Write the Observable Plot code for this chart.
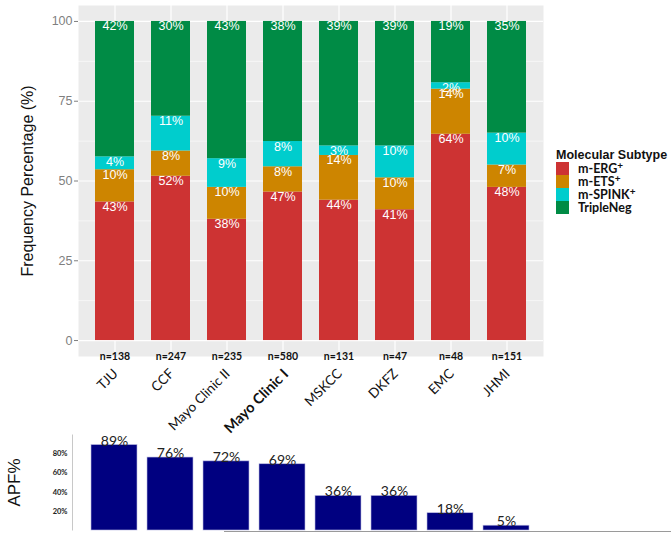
<!DOCTYPE html>
<html><head><meta charset="utf-8">
<script src="https://cdn.jsdelivr.net/npm/d3@7"></script>
<script src="https://cdn.jsdelivr.net/npm/@observablehq/plot@0.6"></script>
<style>
body{margin:0;background:#fff;}
#wrap{position:relative;width:671px;height:533px;overflow:hidden;background:#fff;}
#top,#bottom{position:absolute;left:0;}
#top{top:0}
#bottom{top:420px}
#legend{position:absolute;left:556px;top:148px;}
#legend .ttl{font-family:'Liberation Sans',Arial,sans-serif;font-weight:bold;font-size:12.5px;line-height:14px;color:#111;white-space:nowrap;}
#legend .item{display:flex;align-items:center;height:13px;}
#legend .key{width:13px;height:13px;}
#legend .lbl{margin-left:9px;font-family:Lato,sans-serif;font-weight:bold;font-size:12.5px;color:#111;white-space:nowrap;}
#legend sup{font-size:10px;vertical-align:4px;line-height:0;}
#baseline{position:absolute;left:224px;top:531px;width:447px;height:1px;background:#9a9a9a;}
</style></head>
<body><div id="wrap"><div id="top"></div><div id="bottom"></div><div id="legend"></div><div id="baseline"></div></div>
<script>
const cohorts = ["TJU","CCF","Mayo Clinic II","Mayo Clinic I","MSKCC","DKFZ","EMC","JHMI"];
const sampleSizes = [138,247,235,580,131,47,48,151];
const subtypes = ["m-ERG","m-ETS","m-SPINK","TripleNeg"];
const ergPct = [43,52,38,47,44,41,64,48];
const etsPct = [10,8,10,8,14,10,14,7];
const spinkPct = [4,11,9,8,3,10,2,10];
const tripleNegPct = [42,30,43,38,39,39,19,35];
const apfPct = [89,76,72,69,36,36,18,5];
const subtypeColors = ["#CD3333","#CD8500","#00CDCD","#008B45"];
const yTicks = [0,25,50,75,100];
const yMinor = [12.5,37.5,62.5,87.5];
const apfTicks = [20,40,60,80];
const highlighted = "Mayo Clinic I";

const series = [ergPct, etsPct, spinkPct, tripleNegPct];
const rows = [];
cohorts.forEach((c,i)=>subtypes.forEach((s,j)=>rows.push({cohort:c, subtype:s, value:series[j][i]})));
const stackOpts = {x:"cohort", y:"value", z:"subtype", offset:"normalize"};

const W = 671;
const topChart = Plot.plot({
  width: W, height: 450,
  marginLeft: 78, marginRight: 128, marginTop: 5, marginBottom: 94,
  style: "background:transparent;overflow:visible;font-family:'Liberation Sans',Arial,sans-serif;font-size:12.5px;color:#7f7f7f;",
  x: {domain: cohorts, axis: null, paddingInner: 0.3, paddingOuter: 0.25},
  y: {domain: [-0.05, 1.05], ticks: yTicks.map(d=>d/100), tickFormat: d=>String(Math.round(d*100)), tickSize: 4, tickPadding: 2, label: null},
  color: {domain: subtypes, range: subtypeColors},
  marks: [
    Plot.frame({fill:"#EBEBEB"}),
    Plot.ruleY(yMinor, {y: d=>d/100, stroke:"white", strokeWidth:0.6}),
    Plot.ruleY(yTicks, {y: d=>d/100, stroke:"white", strokeWidth:1.2}),
    Plot.ruleX(cohorts, {x: d=>d, stroke:"white", strokeWidth:1.2}),
    Plot.barY(rows, Plot.stackY({...stackOpts, fill:"subtype"})),
    Plot.text(rows, Plot.stackY2({...stackOpts, text: d=>d.value+"%", fill:"white", dy:5, lineAnchor:"middle", fontSize:12.5, fontFamily:"'Liberation Sans',Arial,sans-serif"})),
    Plot.text(cohorts, {x: d=>d, y: -0.05, text: d=>"n="+sampleSizes[cohorts.indexOf(d)], fill:"#111", fontWeight:"bold", fontSize:10.5, fontFamily:"Lato,sans-serif", lineAnchor:"middle"}),
    Plot.text(cohorts.filter(c=>c!==highlighted), {x: d=>d, y: -0.085, text: d=>d, rotate:-45, textAnchor:"end", lineAnchor:"top", dx:-3, fill:"#111", fontSize:13.5, fontFamily:"Lato,sans-serif"}),
    Plot.text(cohorts.filter(c=>c===highlighted), {x: d=>d, y: -0.085, text: d=>d, rotate:-45, textAnchor:"end", lineAnchor:"top", dx:-1, fill:"#111", fontSize:14.5, fontWeight:"bold", fontFamily:"Lato,sans-serif"}),
    Plot.text(["Frequency Percentage (%)"], {frameAnchor:"left", dx:-51, rotate:-90, textAnchor:"middle", text:d=>d, fill:"#111", fontSize:16, fontFamily:"'Liberation Sans',Arial,sans-serif"})
  ]
});
document.getElementById("top").appendChild(topChart);

const apfRows = cohorts.map((c,i)=>({cohort:c, apf:apfPct[i]}));
const bW = W - 72 - 123.5, bH = 113 - 14 - 3;
const bottomChart = Plot.plot({
  width: W, height: 113,
  marginLeft: 72, marginRight: 123.5, marginTop: 14, marginBottom: 3,
  style: "background:transparent;overflow:visible;font-family:Lato,sans-serif;font-size:7.5px;font-weight:bold;color:#222;",
  x: {domain: cohorts, axis: null, paddingInner: 0.17, paddingOuter: 0.315},
  y: {domain: [0,100], ticks: apfTicks, tickFormat: d=>d+"%", tickSize: 0, tickPadding: 5, label: null},
  marks: [
    Plot.frame({stroke:"#c8c8c8", strokeDasharray:`0,${2*bW+bH},${bH},0`}),
    Plot.barY(apfRows, {x:"cohort", y:"apf", fill:"#000080", stroke:"#b8b8e0", strokeWidth:0.6}),
    Plot.text(apfRows, {x:"cohort", y:"apf", text:d=>d.apf+"%", dy:-4, lineAnchor:"middle", fill:"#222", fontSize:14, fontWeight:"normal", fontFamily:"Lato,sans-serif"}),
    Plot.text(["APF%"], {frameAnchor:"left", dx:-58, rotate:-90, textAnchor:"middle", text:d=>d, fill:"#111", fontSize:17, fontWeight:"normal", fontFamily:"'Liberation Sans',Arial,sans-serif"})
  ]
});
document.getElementById("bottom").appendChild(bottomChart);

const legend = document.getElementById("legend");
legend.innerHTML = `<div class="ttl">Molecular Subtype</div>` + subtypes.map((s,i)=>
  `<div class="item"><div class="key" style="background:${subtypeColors[i]}"></div><div class="lbl">${s}${s!=="TripleNeg"?"<sup>+</sup>":""}</div></div>`).join("");
</script>
</body></html>
